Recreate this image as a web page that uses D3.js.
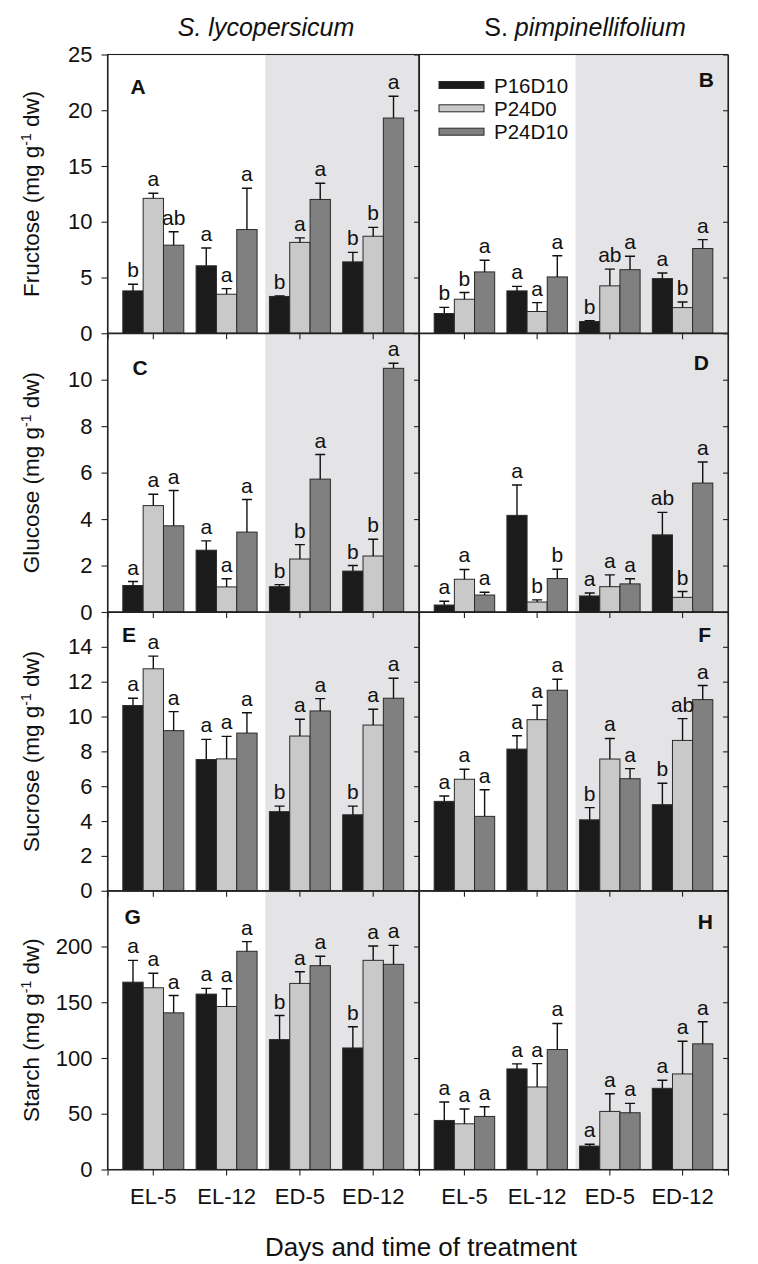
<!DOCTYPE html>
<html><head><meta charset="utf-8">
<script src="https://cdn.jsdelivr.net/npm/d3@7"></script>
<style>
body{margin:0;background:#fff}
svg text{font-family:"Liberation Sans",Arial,Helvetica,sans-serif;fill:#111}
</style>
</head><body>
<svg id="chart" width="758" height="1264"></svg>
<script>
// ---------------- DATA ----------------
const categories = ["EL-5", "EL-12", "ED-5", "ED-12"];
const treatments = ["P16D10", "P24D0", "P24D10"];
const species = ["S. lycopersicum", "S. pimpinellifolium"];
const yTitles = ["Fructose", "Glucose", "Sucrose", "Starch"];
const yTickValues = [[0,5,10,15,20,25],[0,2,4,6,8,10],[0,2,4,6,8,10,12,14],[0,50,100,150,200]];
const yMax = [25, 12, 16, 250];

// means [category][treatment]
const fructoseLycMean = [[3.8,12.1,7.9],[6.05,3.5,9.3],[3.3,8.15,12.0],[6.4,8.7,19.3]];
const fructoseLycSE   = [[0.6,0.45,1.2],[1.6,0.5,3.7],[0.05,0.4,1.45],[0.85,0.8,1.95]];
const fructoseLycSig  = [["b","a","ab"],["a","a","a"],["b","a","a"],["b","b","a"]];

const fructosePimMean = [[1.77,3.05,5.5],[3.8,1.95,5.05],[1.05,4.25,5.7],[4.9,2.3,7.6]];
const fructosePimSE   = [[0.55,0.6,1.05],[0.4,0.8,1.9],[0.08,1.5,1.2],[0.5,0.5,0.8]];
const fructosePimSig  = [["b","b","a"],["a","a","a"],["b","ab","a"],["a","b","a"]];

const glucoseLycMean = [[1.14,4.58,3.71],[2.66,1.08,3.44],[1.09,2.28,5.72],[1.76,2.41,10.49]];
const glucoseLycSE   = [[0.17,0.49,1.52],[0.4,0.35,1.4],[0.09,0.62,1.06],[0.24,0.72,0.22]];
const glucoseLycSig  = [["a","a","a"],["a","a","a"],["b","b","a"],["b","b","a"]];

const glucosePimMean = [[0.3,1.41,0.73],[4.16,0.43,1.44],[0.69,1.09,1.21],[3.32,0.63,5.55]];
const glucosePimSE   = [[0.16,0.42,0.12],[1.31,0.09,0.4],[0.13,0.51,0.22],[0.97,0.25,0.91]];
const glucosePimSig  = [["a","a","a"],["a","b","b"],["a","a","a"],["ab","b","a"]];

const sucroseLycMean = [[10.63,12.74,9.19],[7.53,7.57,9.05],[4.54,8.88,10.32],[4.36,9.51,11.05]];
const sucroseLycSE   = [[0.42,0.73,1.09],[1.16,1.29,1.17],[0.32,0.96,0.71],[0.5,0.91,1.15]];
const sucroseLycSig  = [["a","a","a"],["a","a","a"],["b","a","a"],["b","a","a"]];

const sucrosePimMean = [[5.13,6.4,4.27],[8.13,9.82,11.51],[4.07,7.56,6.43],[4.94,8.63,10.97]];
const sucrosePimSE   = [[0.31,0.57,1.53],[0.77,0.83,0.63],[0.7,1.18,0.58],[1.23,1.25,0.81]];
const sucrosePimSig  = [["a","a","a"],["a","a","a"],["b","a","a"],["b","ab","a"]];

const starchLycMean = [[168,163,140.5],[157.3,146.2,195.7],[116.5,166.9,182.8],[109,187.6,184]];
const starchLycSE   = [[19.6,13,15.5],[5.1,15.9,8.7],[21.6,10.5,8.4],[19,12.9,17]];
const starchLycSig  = [["a","a","a"],["a","a","a"],["b","a","a"],["b","a","a"]];

const starchPimMean = [[44,41,47.6],[90.2,74,107.6],[21,52.1,50.9],[72.8,85.7,112.7]];
const starchPimSE   = [[16.5,13.2,8.7],[4.5,21,23.4],[1.7,15.9,8.4],[7.2,29.3,19.8]];
const starchPimSig  = [["a","a","a"],["a","a","a"],["a","a","a"],["a","a","a"]];

// ---------------- LAYOUT / STYLE ----------------
const fills = ["#1b1b1b", "#c9c9c9", "#808080"];
const shadeColor = "#e4e4e6";
const colX = [[107.5, 419], [419, 728]];
const rowTop = [54.5, 333.25, 612, 890.75];
const rowH = 278.75;
const FONT = '"Liberation Sans", Arial, Helvetica, sans-serif';

const panels = [
  {key:"A", row:0, col:0, mean:fructoseLycMean, se:fructoseLycSE, sig:fructoseLycSig},
  {key:"B", row:0, col:1, mean:fructosePimMean, se:fructosePimSE, sig:fructosePimSig},
  {key:"C", row:1, col:0, mean:glucoseLycMean, se:glucoseLycSE, sig:glucoseLycSig},
  {key:"D", row:1, col:1, mean:glucosePimMean, se:glucosePimSE, sig:glucosePimSig},
  {key:"E", row:2, col:0, mean:sucroseLycMean, se:sucroseLycSE, sig:sucroseLycSig},
  {key:"F", row:2, col:1, mean:sucrosePimMean, se:sucrosePimSE, sig:sucrosePimSig},
  {key:"G", row:3, col:0, mean:starchLycMean, se:starchLycSE, sig:starchLycSig},
  {key:"H", row:3, col:1, mean:starchPimMean, se:starchPimSE, sig:starchPimSig}
];
const panelLabelPos = {
  A:{dx:23, dy:39.5}, B:{dx:-14, dy:32}, C:{dx:25, dy:42}, D:{dx:-19, dy:36.5},
  E:{dx:14.5, dy:30}, F:{dx:-17, dy:30}, G:{dx:17, dy:33}, H:{dx:-15, dy:38}
};

const svg = d3.select("#chart");
const gBack = svg.append("g");
const gBars = svg.append("g");
const gAxes = svg.append("g");
const gText = svg.append("g");

const xScale = col => d3.scaleBand().domain(categories).range(colX[col]).paddingInner(0.168).paddingOuter(0.209);
const yScale = row => d3.scaleLinear().domain([0, yMax[row]]).range([rowTop[row] + rowH, rowTop[row]]);

panels.forEach(p => {
  const x = xScale(p.col), y = yScale(p.row);
  const xi = d3.scaleBand().domain(treatments).range([0, x.bandwidth()]);
  const [x0, x1] = colX[p.col];
  const top = rowTop[p.row], bottom = top + rowH;
  // shaded darkness period
  const mid = (x(categories[1]) + x(categories[2])) / 2 + x.bandwidth() / 2 + 2;
  gBack.append("rect").attr("x", mid).attr("y", top).attr("width", x1 - mid).attr("height", rowH)
    .attr("fill", shadeColor);

  const items = [];
  categories.forEach((c, i) => treatments.forEach((t, j) => {
    items.push({c, t, j, v: p.mean[i][j], se: p.se[i][j], sig: p.sig[i][j]});
  }));
  const g = gBars.append("g");
  g.selectAll("rect.bar").data(items).enter().append("rect")
    .attr("x", d => x(d.c) + xi(d.t))
    .attr("y", d => y(d.v))
    .attr("width", xi.bandwidth())
    .attr("height", d => y(0) - y(d.v))
    .attr("fill", d => fills[d.j])
    .attr("stroke", "#2a2a2a").attr("stroke-width", 1);
  // error bars
  g.selectAll("path.err").data(items).enter().append("path")
    .attr("d", d => {
      const cx = x(d.c) + xi(d.t) + xi.bandwidth() / 2;
      const yt = y(d.v + d.se), yb = y(d.v);
      return `M${cx},${yb}V${yt}M${cx - 5},${yt}H${cx + 5}`;
    })
    .attr("fill", "none").attr("stroke", "#111").attr("stroke-width", 1.4);
  // significance letters
  gText.append("g").selectAll("text").data(items).enter().append("text")
    .attr("x", d => x(d.c) + xi(d.t) + xi.bandwidth() / 2)
    .attr("y", d => y(d.v + d.se) - 7)
    .attr("text-anchor", "middle")
    .attr("font-size", 21)
    .text(d => d.sig);

  // panel letter
  const lp = panelLabelPos[p.key];
  gText.append("text")
    .attr("x", lp.dx > 0 ? x0 + lp.dx : x1 + lp.dx)
    .attr("y", top + lp.dy)
    .attr("text-anchor", lp.dx > 0 ? "start" : "end")
    .attr("font-size", 21).attr("font-weight", "bold")
    .text(p.key);

  // frame
  gAxes.append("rect").attr("x", x0).attr("y", top).attr("width", x1 - x0).attr("height", rowH)
    .attr("fill", "none").attr("stroke", "#222").attr("stroke-width", 1.1);

  // bottom axis with ticks
  const ax = d3.axisBottom(x).tickSize(6).tickSizeOuter(6).tickPadding(13)
    .tickFormat(p.row === 3 ? (d => d) : (() => ""));
  const ga = gAxes.append("g").attr("transform", `translate(0,${bottom})`).call(ax);
  ga.attr("font-size", 22).attr("font-family", FONT);
  ga.selectAll("line,path").attr("stroke", "#222").attr("stroke-width", 1.1);
  ga.selectAll("text").attr("fill", "#111");
});

// y axes
for (let r = 0; r < 4; r++) {
  const y = yScale(r);
  const gl = gAxes.append("g").attr("transform", `translate(${colX[0][0]},0)`)
    .call(d3.axisLeft(y).tickValues(yTickValues[r]).tickSize(6).tickSizeOuter(0).tickPadding(9));
  gl.attr("font-size", 22).attr("font-family", FONT);
  gl.selectAll("line,path").attr("stroke", "#222").attr("stroke-width", 1.1);
  gl.selectAll("text").attr("fill", "#111");
  [colX[0][1], colX[1][1]].forEach(xx => {
    const gr = gAxes.append("g").attr("transform", `translate(${xx},0)`)
      .call(d3.axisLeft(y).tickValues(yTickValues[r]).tickSize(5).tickSizeOuter(0).tickFormat(() => ""));
    gr.selectAll("line,path").attr("stroke", "#222").attr("stroke-width", 1.1);
  });
  // y title
  const cy = rowTop[r] + rowH / 2;
  const t = gText.append("text")
    .attr("transform", `translate(39,${cy}) rotate(-90)`)
    .attr("text-anchor", "middle").attr("font-size", 22.5);
  t.append("tspan").text(yTitles[r] + " (mg g");
  t.append("tspan").attr("dy", -8).attr("font-size", 14).text("-1");
  t.append("tspan").attr("dy", 8).text(" dw)");
}

// column titles
gText.append("text").attr("x", 266).attr("y", 36).attr("text-anchor", "middle")
  .attr("font-size", 25).attr("font-style", "italic").text(species[0]);
const t2 = gText.append("text").attr("x", 585).attr("y", 36).attr("text-anchor", "middle")
  .attr("font-size", 25);
t2.append("tspan").text(species[1].split(" ")[0] + " ");
t2.append("tspan").attr("font-style", "italic").text(species[1].split(" ")[1]);

// x title
gText.append("text").attr("x", 421).attr("y", 1256).attr("text-anchor", "middle")
  .attr("font-size", 26).text("Days and time of treatment");

// legend (panel B)
const legY = [85, 108.3, 131.7];
const leg = gText.append("g");
treatments.forEach((t, j) => {
  leg.append("rect").attr("x", 439).attr("y", legY[j] - 3.5).attr("width", 45).attr("height", 7)
    .attr("fill", fills[j]).attr("stroke", "#2a2a2a").attr("stroke-width", 1);
  leg.append("text").attr("x", 494).attr("y", legY[j] + 7.5).attr("font-size", 20.5).text(t);
});
</script>
</body></html>
